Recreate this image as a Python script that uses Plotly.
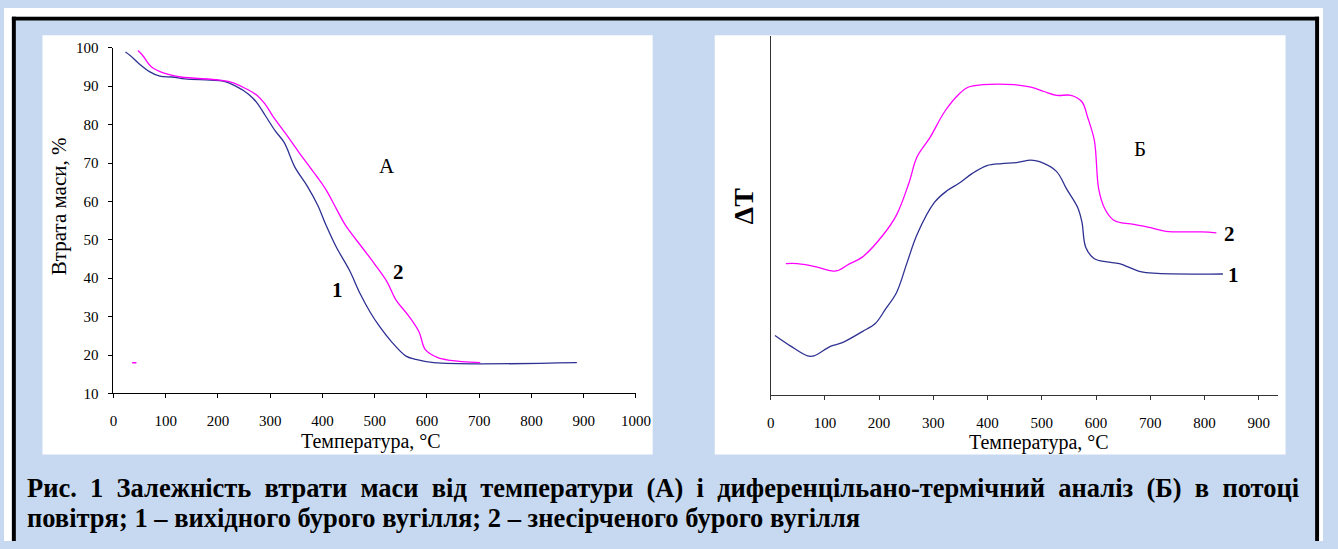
import plotly.graph_objects as go

W, H = 1338, 549

# ---------------- data: panel A (mass loss, %) ----------------
a1_temp = [23, 32, 48, 69, 89, 113, 137, 185, 210, 234, 258, 274, 290, 310, 327, 347, 371, 391,
           407, 427, 452, 472, 492, 508, 532, 560, 577, 613, 887]
a1_loss = [98.9, 98.0, 96.0, 93.8, 92.6, 92.4, 91.9, 91.6, 91.3, 90.0, 88.0, 85.8, 82.5, 78.3,
           75.3, 69.0, 64.0, 59.0, 53.8, 48.0, 42.0, 36.0, 31.0, 27.7, 23.5, 19.7, 18.9, 18.0, 18.0]

a2_temp = [47, 56, 73, 97, 129, 202, 226, 250, 274, 290, 306, 331, 355, 387, 407, 427, 444, 476,
           500, 524, 540, 565, 585, 597, 621, 645, 702]
a2_loss = [99.3, 98.0, 95.0, 93.4, 92.4, 91.6, 91.0, 89.6, 87.7, 85.4, 82.0, 77.4, 72.8, 66.9,
           63.0, 58.0, 53.8, 48.0, 43.7, 39.0, 34.5, 30.2, 26.0, 21.4, 19.3, 18.6, 18.0]

a_stray_temp = [40]
a_stray_loss = [18]

# ---------------- data: panel Б (DTA, arbitrary units) ----------------
b1_temp = [8, 37, 68, 80, 111, 131, 169, 193, 212, 232, 251, 270, 302, 325, 348, 372, 399, 426,
           453, 480, 496, 527, 546, 566, 574, 581, 597, 620, 643, 682, 713, 834]
b1_dt = [61, 50, 40, 40, 50, 53.3, 65, 73.3, 88.3, 105, 135, 165, 198, 210, 218, 228, 236, 238,
         239, 241.7, 240, 230, 211.7, 193, 178, 152, 140, 136.7, 135, 126.7, 125, 124.3]

b2_temp = [28, 49, 84, 111, 123, 146, 169, 208, 232, 255, 270, 294, 321, 348, 364, 391, 449, 480,
           504, 527, 554, 574, 585, 597, 605, 616, 632, 651, 667, 698, 729, 795, 822]
b2_dt = [135, 135, 131.7, 127.7, 127.7, 135, 141.7, 165, 185, 218, 245, 265, 291.7, 310, 316.7,
         319.3, 319.3, 316.7, 312.3, 308.3, 308.3, 301.7, 285, 261.7, 211.7, 191.7, 180, 176.7,
         175.7, 172.3, 168.3, 167.7, 166.7]

a_yticks = [10, 20, 30, 40, 50, 60, 70, 80, 90, 100]
a_xticks = [0, 100, 200, 300, 400, 500, 600, 700, 800, 900, 1000]
b_xticks = [0, 100, 200, 300, 400, 500, 600, 700, 800, 900]

caption1 = "Рис. 1 Залежність втрати маси від температури (А) і диференцільано-термічний аналіз (Б) в потоці"
caption2 = "повітря; 1 – вихідного бурого вугілля; 2 – знесірченого бурого вугілля"

# ---------------- styling ----------------
BLUE = "#2E3192"
MAGENTA = "#FF00FF"
BG = "#C6D9F0"
SERIF = "Liberation Serif"


def px(x):
    return x / W


def py(y):
    return 1 - y / H


fig = go.Figure()
fig.add_trace(go.Scatter(x=a1_temp, y=a1_loss, mode="lines", line=dict(color=BLUE, width=1.3),
                         xaxis="x", yaxis="y", showlegend=False, line_shape="spline"))
fig.add_trace(go.Scatter(x=a2_temp, y=a2_loss, mode="lines", line=dict(color=MAGENTA, width=1.3),
                         xaxis="x", yaxis="y", showlegend=False, line_shape="spline"))
fig.add_trace(go.Scatter(x=a_stray_temp, y=a_stray_loss, mode="markers",
                         marker=dict(color=MAGENTA, size=3, symbol="line-ew-open",
                                     line=dict(color=MAGENTA, width=1.5)),
                         xaxis="x", yaxis="y", showlegend=False))
fig.add_trace(go.Scatter(x=b1_temp, y=b1_dt, mode="lines", line=dict(color=BLUE, width=1.3),
                         xaxis="x2", yaxis="y2", showlegend=False, line_shape="spline"))
fig.add_trace(go.Scatter(x=b2_temp, y=b2_dt, mode="lines", line=dict(color=MAGENTA, width=1.3),
                         xaxis="x2", yaxis="y2", showlegend=False, line_shape="spline"))

tickfont = dict(family=SERIF, size=15, color="black")

fig.update_layout(
    width=W, height=H, autosize=False,
    margin=dict(l=0, r=0, t=0, b=0, pad=0),
    paper_bgcolor=BG, plot_bgcolor="rgba(0,0,0,0)",
    xaxis=dict(domain=[px(111), px(641)], range=[0, 1000], tickvals=a_xticks,
               showgrid=False, zeroline=False, showline=True, linecolor="black", linewidth=1,
               ticks="outside", ticklen=4, tickcolor="black", tickfont=tickfont,
               ticklabelstandoff=10, anchor="y", fixedrange=True),
    yaxis=dict(domain=[py(397), py(41)], range=[10, 100], tickvals=a_yticks,
               showgrid=False, zeroline=False, showline=True, linecolor="black", linewidth=1,
               ticks="outside", ticklen=4, tickcolor="black", tickfont=tickfont,
               ticklabelstandoff=7, anchor="x", fixedrange=True),
    xaxis2=dict(domain=[px(777.7), px(1292)], range=[0, 935], tickvals=b_xticks,
                showgrid=False, zeroline=False, showline=True, linecolor="#333333", linewidth=1.3,
                ticks="outside", ticklen=4, tickcolor="#333333", tickfont=tickfont,
                ticklabelstandoff=10, anchor="y2", fixedrange=True),
    yaxis2=dict(domain=[py(398.3), py(29.3)], range=[0, 369],
                showgrid=False, zeroline=False, showline=True, linecolor="#333333", linewidth=1.3,
                showticklabels=False, ticks="", anchor="x2", fixedrange=True),
)

shapes = [
    # white chart panels
    dict(type="rect", xref="paper", yref="paper", x0=px(39), x1=px(658), y0=py(460), y1=py(28),
         fillcolor="white", line=dict(width=0), layer="below"),
    dict(type="rect", xref="paper", yref="paper", x0=px(721), x1=px(1300), y0=py(460), y1=py(28),
         fillcolor="white", line=dict(width=0), layer="below"),
    # white outer margin (top, left, right)
    dict(type="rect", xref="paper", yref="paper", x0=0, x1=1, y0=py(9), y1=1,
         fillcolor="white", line=dict(width=0), layer="below"),
    dict(type="rect", xref="paper", yref="paper", x0=0, x1=px(8), y0=0, y1=1,
         fillcolor="white", line=dict(width=0), layer="below"),
    dict(type="rect", xref="paper", yref="paper", x0=px(1334), x1=1, y0=0, y1=1,
         fillcolor="white", line=dict(width=0), layer="below"),
    # black frame (top, left, right)
    dict(type="rect", xref="paper", yref="paper", x0=px(8), x1=px(1334), y0=py(13), y1=py(9),
         fillcolor="black", line=dict(width=0), layer="above"),
    dict(type="rect", xref="paper", yref="paper", x0=px(8), x1=px(12), y0=0, y1=py(9),
         fillcolor="black", line=dict(width=0), layer="above"),
    dict(type="rect", xref="paper", yref="paper", x0=px(1330), x1=px(1334), y0=0, y1=py(9),
         fillcolor="black", line=dict(width=0), layer="above"),
]
fig.update_layout(shapes=shapes)

ann = []
lab = dict(family=SERIF, size=21, color="black")


def note(text, x, y, font, xref="paper", yref="paper", angle=0, xanchor="center"):
    return dict(text=text, xref=xref, yref=yref, x=x, y=y, textangle=angle,
                xanchor=xanchor, yanchor="middle", showarrow=False, borderpad=0, font=font)


# axis titles
ann.append(note("Втрата маси, %", px(56), py(204), dict(family=SERIF, size=21, color="black"), angle=-90))
ann.append(note("Температура, °C", px(372), py(446), dict(family=SERIF, size=20, color="black")))
ann.append(note("Температура, °C", px(1050), py(448), dict(family=SERIF, size=20, color="black")))
ann.append(note("<b>ΔT</b>", px(750), py(204), dict(family=SERIF, size=28, color="black"), angle=-90))
# curve / panel labels
ann.append(note("А", 524, 69.2, lab, "x", "y"))
ann.append(note("<b>2</b>", 545, 41.6, lab, "x", "y"))
ann.append(note("<b>1</b>", 428, 37, lab, "x", "y"))
ann.append(note("Б", 682, 253, lab, "x2", "y2"))
ann.append(note("<b>2</b>", 847, 166, lab, "x2", "y2"))
ann.append(note("<b>1</b>", 853, 123, lab, "x2", "y2"))
# caption (first line is justified in the original -> widen the gaps)
capfont = dict(family=SERIF, size=26.5, color="black")
ann.append(note("<b>" + caption1.replace(" ", "\u00a0\u00a0") + "</b>", px(22), py(494), capfont,
                xanchor="left"))
ann.append(note("<b>" + caption2 + "</b>", px(22), py(525), capfont, xanchor="left"))
fig.update_layout(annotations=ann)

fig.write_html("out.html", config={"displayModeBar": False},
               post_script="document.body.style.margin='0';"
                           "document.documentElement.style.overflow='hidden';")
